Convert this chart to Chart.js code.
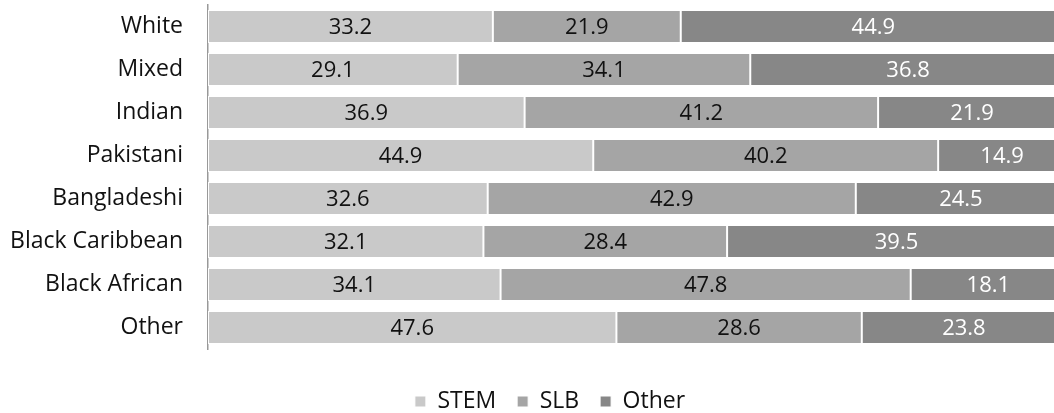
<!DOCTYPE html>
<html>
<head>
<meta charset="utf-8">
<script src="https://cdn.jsdelivr.net/npm/chart.js@4.4.1/dist/chart.umd.min.js"></script>
<style>
  html, body { margin: 0; padding: 0; background: #fff; overflow: hidden; }
  #wrap { width: 1100px; height: 423px; }
</style>
</head>
<body>
<div id="wrap"><canvas id="chart" width="1100" height="423"></canvas></div>
<script>
// Share of students by subject group, per ethnic group (%)
const groups = ['White', 'Mixed', 'Indian', 'Pakistani', 'Bangladeshi', 'Black Caribbean', 'Black African', 'Other'];
const stem  = [33.2, 29.1, 36.9, 44.9, 32.6, 32.1, 34.1, 47.6];
const slb   = [21.9, 34.1, 41.2, 40.2, 42.9, 28.4, 47.8, 28.6];
const other = [44.9, 36.8, 21.9, 14.9, 24.5, 39.5, 18.1, 23.8];
const seriesNames = ['STEM', 'SLB', 'Other'];

const FONT = "'Open Sans', 'DejaVu Sans', sans-serif";

// Writes each segment's value in the middle of its bar piece
const segmentLabels = {
  id: 'segmentLabels',
  afterDatasetsDraw(chart) {
    const ctx = chart.ctx;
    ctx.save();
    ctx.font = '22px ' + FONT;
    ctx.textAlign = 'center';
    ctx.textBaseline = 'middle';
    chart.data.datasets.forEach((ds, di) => {
      const meta = chart.getDatasetMeta(di);
      ctx.fillStyle = di === 2 ? '#ffffff' : '#111111';
      meta.data.forEach((bar, i) => {
        const p = bar.getProps(['x', 'y', 'base'], true);
        ctx.fillText(ds.data[i].toFixed(1), (p.x + p.base) / 2, p.y + 1);
      });
    });
    ctx.restore();
  }
};

// Lets the long category names run into the left margin instead of being cut
const wideLabelColumn = {
  id: 'wideLabelColumn',
  afterLayout(chart) {
    chart.scales.y.left = 0;
  }
};

new Chart(document.getElementById('chart'), {
  type: 'bar',
  data: {
    labels: groups,
    datasets: [
      { label: seriesNames[0], data: stem,  backgroundColor: '#c9c9c9' },
      { label: seriesNames[1], data: slb,   backgroundColor: '#a5a5a5' },
      { label: seriesNames[2], data: other, backgroundColor: '#878787' }
    ]
  },
  options: {
    indexAxis: 'y',
    responsive: false,
    animation: false,
    layout: { padding: { top: 5, right: 34, left: 34, bottom: 0 } },
    datasets: {
      bar: {
        categoryPercentage: 1,
        barPercentage: 0.77,
        borderColor: '#ffffff',
        borderWidth: 1,
        borderSkipped: false
      }
    },
    scales: {
      x: {
        stacked: true,
        min: 0,
        max: 100,
        display: false
      },
      y: {
        stacked: true,
        grid: { display: false, drawTicks: false },
        border: { display: true, color: '#999999', width: 1.5 },
        ticks: {
          color: '#111111',
          padding: 25,
          font: { family: FONT, size: 23 }
        },
        afterFit(scale) {
          // fixed axis column; the axis line runs the full plot height
          scale.width = 174;
          scale.paddingTop = 0;
          scale.paddingBottom = 0;
        }
      }
    },
    plugins: {
      tooltip: { enabled: false },
      legend: {
        position: 'bottom',
        title: { display: true, text: ' ', font: { size: 10 }, padding: { top: 0, bottom: 8 } },
        labels: {
          boxWidth: 11,
          boxHeight: 11,
          padding: 21,
          color: '#111111',
          font: { family: FONT, size: 23 }
        }
      }
    }
  },
  plugins: [segmentLabels, wideLabelColumn]
});
</script>
</body>
</html>
